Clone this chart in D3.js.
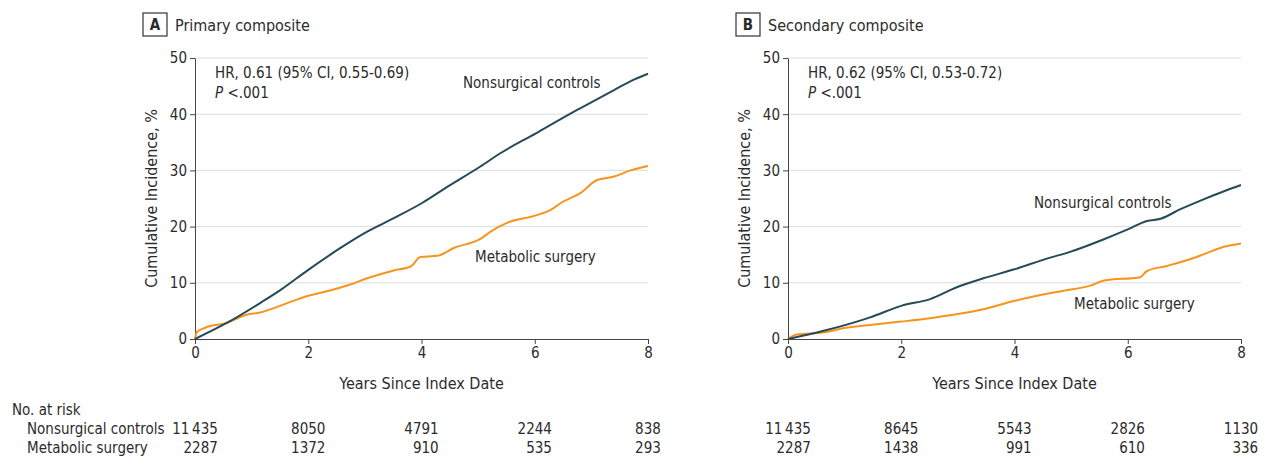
<!DOCTYPE html>
<meta charset="utf-8">
<style>
body { margin: 0; background: #fff; }
svg text { font-family: "Liberation Sans Narrow", "DejaVu Sans Condensed", sans-serif; fill: #2b2b2b; }
.grid line { stroke: #dcdcdc; stroke-width: 1px; }
.axis path, .axis line { stroke: #444; }
.axis text { font-size: 15px; }
.curve { fill: none; stroke-width: 2px; }
</style>
<svg width="1267" height="469"></svg>
<script src="https://cdn.jsdelivr.net/npm/d3@7"></script>
<script>

// data
var yearTicks = [0, 2, 4, 6, 8];
var pctTicks = [0, 10, 20, 30, 40, 50];
var groups = ["Nonsurgical controls", "Metabolic surgery"];

var aNonTime = [0, 0.56, 1.15, 1.5, 2, 2.57, 3.04, 3.51, 4.01, 4.46, 5.04, 5.4, 6.02, 6.52, 6.81, 7.4, 7.76, 8];
var aNonPct  = [0, 2.85, 6.4, 8.65, 12.3, 16.2, 19.1, 21.5, 24.2, 27.1, 30.7, 33.1, 36.6, 39.5, 41.1, 44.3, 46.2, 47.2];
var aSurgTime = [0, 0.03, 0.18, 0.56, 0.91, 1.15, 1.5, 2, 2.33, 2.74, 3.04, 3.51, 3.81, 3.98, 4.28, 4.57, 5.04, 5.22, 5.52, 5.99, 6.29, 6.46, 6.81, 7.1, 7.4, 7.69, 8];
var aSurgPct  = [0, 1.2, 2.0, 2.85, 4.3, 4.7, 5.9, 7.7, 8.5, 9.7, 10.8, 12.2, 12.9, 14.6, 14.8, 16.2, 17.8, 19.1, 20.7, 21.9, 23.0, 24.2, 26.0, 28.3, 28.9, 30.0, 30.8];

var bNonTime = [0, 0.65, 1.45, 2, 2.51, 2.98, 3.45, 4, 4.57, 4.98, 5.58, 6, 6.34, 6.58, 6.93, 7.35, 7.7, 8];
var bNonPct  = [0, 1.5, 3.85, 5.9, 7.1, 9.2, 10.8, 12.4, 14.3, 15.5, 17.75, 19.5, 21.0, 21.4, 23.1, 24.9, 26.3, 27.4];
var bSurgTime = [0, 0.15, 0.65, 0.97, 1.45, 2, 2.51, 2.92, 3.45, 4, 4.4, 4.87, 5.34, 5.58, 6.22, 6.34, 6.69, 7.1, 7.35, 7.7, 8];
var bSurgPct  = [0, 0.8, 1.2, 1.9, 2.5, 3.1, 3.7, 4.3, 5.3, 6.8, 7.7, 8.6, 9.5, 10.4, 11.0, 12.1, 13.0, 14.2, 15.1, 16.4, 17.0];

var aRiskNon  = ["11\u2009435", "8050", "4791", "2244", "838"];
var aRiskSurg = ["2287", "1372", "910", "535", "293"];
var bRiskNon  = ["11\u2009435", "8645", "5543", "2826", "1130"];
var bRiskSurg = ["2287", "1438", "991", "610", "336"];

var colors = ["#264a57", "#f7941d"];

var svg = d3.select("svg");

var panels = [
  {letter: "A", title: "Primary composite", left: 195, hr: "HR, 0.61 (95% CI, 0.55-0.69)",
   series: [[aNonTime, aNonPct], [aSurgTime, aSurgPct]], risk: [aRiskNon, aRiskSurg],
   labels: [{x: 463, y: 88}, {x: 475, y: 262}]},
  {letter: "B", title: "Secondary composite", left: 788, hr: "HR, 0.62 (95% CI, 0.53-0.72)",
   series: [[bNonTime, bNonPct], [bSurgTime, bSurgPct]], risk: [bRiskNon, bRiskSurg],
   labels: [{x: 1034, y: 208}, {x: 1074, y: 309}]}
];

var plotW = 453, plotTop = 58, plotBottom = 339;

panels.forEach(function(p) {
  var x = d3.scaleLinear().domain([0, 8]).range([p.left, p.left + plotW]);
  var y = d3.scaleLinear().domain([0, 50]).range([plotBottom, plotTop]);

  // panel header
  svg.append("rect")
      .attr("x", p.left - 52).attr("y", 13).attr("width", 24).attr("height", 23)
      .attr("fill", "none").attr("stroke", "#333").attr("stroke-width", 1.2);
  svg.append("text")
      .attr("x", p.left - 40).attr("y", 30).attr("text-anchor", "middle")
      .style("font-size", "15px").style("font-weight", "bold").text(p.letter);
  svg.append("text")
      .attr("x", p.left - 20).attr("y", 31)
      .style("font-size", "16px").text(p.title);

  svg.append("g").attr("class", "grid")
    .selectAll("line").data(pctTicks.slice(1)).enter().append("line")
      .attr("x1", x(0)).attr("x2", x(8))
      .attr("y1", function(d) { return y(d); }).attr("y2", function(d) { return y(d); });

  svg.append("g").attr("class", "axis")
      .attr("transform", "translate(" + p.left + ",0)")
      .call(d3.axisLeft(y).tickValues(pctTicks).tickSize(5).tickSizeOuter(0).tickPadding(3));

  svg.append("g").attr("class", "axis")
      .attr("transform", "translate(0," + plotBottom + ")")
      .call(d3.axisBottom(x).tickValues(yearTicks).tickSize(5).tickSizeOuter(0).tickPadding(3));

  svg.append("text")
      .attr("transform", "translate(" + (p.left - 38) + "," + ((plotTop + plotBottom) / 2) + ") rotate(-90)")
      .attr("text-anchor", "middle").style("font-size", "16px")
      .text("Cumulative Incidence, %");
  svg.append("text")
      .attr("x", x(4)).attr("y", 389).attr("text-anchor", "middle").style("font-size", "16px")
      .text("Years Since Index Date");

  svg.append("text").attr("x", p.left + 20).attr("y", 78).style("font-size", "15px").text(p.hr);
  var pv = svg.append("text").attr("x", p.left + 20).attr("y", 98).style("font-size", "15px");
  pv.append("tspan").style("font-style", "italic").text("P");
  pv.append("tspan").text(" <.001");

  var line = d3.line()
      .curve(d3.curveMonotoneX)
      .x(function(d) { return x(d[0]); })
      .y(function(d) { return y(d[1]); });

  // draw surgery first then controls on top
  [1, 0].forEach(function(k) {
    var s = p.series[k];
    svg.append("path").attr("class", "curve")
        .attr("stroke", colors[k])
        .attr("d", line(d3.zip(s[0], s[1])));
    svg.append("text")
        .attr("x", p.labels[k].x).attr("y", p.labels[k].y)
        .style("font-size", "15px").text(groups[k]);
  });

  // numbers at risk: column centred on tick, rows right-aligned
  var rows = [434, 453];
  yearTicks.forEach(function(t, i) {
    var texts = p.risk.map(function(r, k) {
      return svg.append("text").attr("y", rows[k]).attr("text-anchor", "end")
          .style("font-size", "15px").text(r[i]);
    });
    var w = d3.max(texts, function(tx) { return tx.node().getComputedTextLength(); });
    texts.forEach(function(tx) { tx.attr("x", x(t) + w / 2); });
  });
});

svg.append("text").attr("x", 12).attr("y", 415).style("font-size", "15px").text("No. at risk");
groups.forEach(function(g, k) {
  svg.append("text").attr("x", 27).attr("y", [434, 453][k]).style("font-size", "15px").text(g);
});

</script>
